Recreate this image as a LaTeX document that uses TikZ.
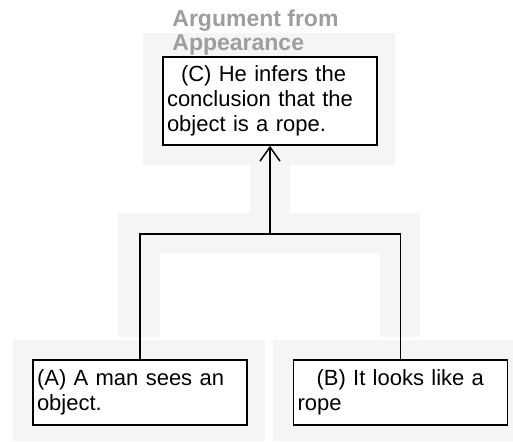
\documentclass[tikz,border=0pt]{standalone}
\usepackage{fontspec}
\setmainfont{Liberation Sans}
\usetikzlibrary{arrows.meta}
\tikzset{
  panel/.style={fill=black!4,draw=none},
  stmt/.style={draw,line width=0.8pt,fill=white,text width=103pt,minimum height=#1,inner sep=2pt,align=left,font=\fontsize{11}{12.5}\selectfont},
  title/.style={anchor=north west,inner sep=0pt,align=left,text=black!38,font=\fontsize{11.5}{12}\selectfont\bfseries},
  link/.style={line width=0.75pt},
  arr/.style={-{Straight Barb[length=7pt,width=10pt]},line width=0.75pt},
}
\begin{document}
\begin{tikzpicture}[x=0.5pt,y=-0.5pt]
\useasboundingbox (0,0) rectangle (513,441);
% grey panels behind the diagram
\fill[panel] (143,33) rectangle (395,165);
\fill[panel] (250,165) rectangle (290,213);
\fill[panel] (118,213) rectangle (420,337);
\fill[white] (160,253) rectangle (380,337);
\fill[panel] (13,340) rectangle (265,441);
\fill[panel] (273,340) rectangle (513,441);

\node[title] (t) at (172,9) {Argument from\\Appearance};
\node[stmt=44pt] (c) at (270,101) {\hspace*{7pt}(C) He infers the\\conclusion that the\\object is a rope.};
\node[stmt=32.5pt] (a) at (140,392.5) {(A) A man sees an\\object.};
\node[stmt=32.5pt] (b) at (400.5,392.5) {\hspace*{9.5pt}(B) It looks like a\\rope};

\coordinate (j) at (270,234);
\draw[link] (a.north) |- (j) -| (b.north);
\draw[arr] (j) -- (c.south);
\end{tikzpicture}
\end{document}
